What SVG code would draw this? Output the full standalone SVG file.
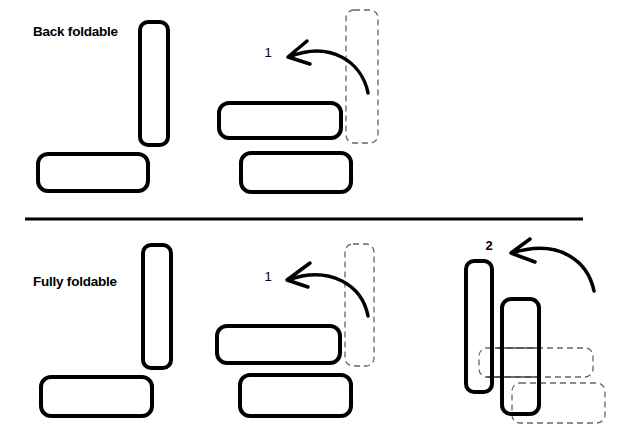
<svg xmlns="http://www.w3.org/2000/svg" width="620" height="443" viewBox="0 0 620 443">
<style>
.seat{fill:none;stroke:#000;stroke-width:4}
.ghost{fill:none;stroke:#666;stroke-width:1.3;stroke-dasharray:6,4}
.arr{fill:none;stroke:#000;stroke-width:3.5;stroke-linecap:round;stroke-linejoin:round}
.lbl{font-family:"Liberation Sans",Arial,sans-serif;font-size:13.5px;font-weight:bold;fill:#000}
.num{font-family:"Liberation Sans",Arial,sans-serif;font-size:13px;fill:#000}
</style>
<rect width="620" height="443" fill="#fff"/>
<text class="lbl" x="33" y="36" textLength="85">Back foldable</text>
<text class="lbl" x="33" y="286" textLength="84">Fully foldable</text>
<line x1="25" y1="219" x2="583" y2="219" stroke="#000" stroke-width="3"/>
<g id="top-left-back"><rect class="seat" x="140" y="22" width="28" height="123" rx="8"/></g>
<g id="top-left-seat"><rect class="seat" x="38" y="154" width="110" height="37" rx="10"/></g>
<g id="top-right-back"><rect class="seat" x="219" y="103" width="122" height="35" rx="10"/></g>
<g id="top-right-seat"><rect class="seat" x="241" y="153" width="110" height="39" rx="10"/></g>
<g id="top-ghost"><rect class="ghost" x="346" y="10" width="32" height="133" rx="8"/></g>
<g id="bot-left-back"><rect class="seat" x="143" y="245" width="28" height="123" rx="8"/></g>
<g id="bot-left-seat"><rect class="seat" x="41" y="377" width="111" height="39" rx="10"/></g>
<g id="bot-mid-back"><rect class="seat" x="217" y="326" width="123" height="37" rx="10"/></g>
<g id="bot-mid-seat"><rect class="seat" x="240" y="375" width="111" height="41" rx="10"/></g>
<g id="bot-mid-ghost"><rect class="ghost" x="345" y="244" width="29" height="122" rx="8"/></g>
<g id="bot-right-ghost1"><rect class="ghost" x="479" y="348" width="114" height="29" rx="8"/>
<line x1="495" y1="348" x2="538" y2="348" stroke="#444" stroke-width="1.3"/>
<line x1="487" y1="377" x2="540" y2="377" stroke="#444" stroke-width="1.3"/></g>
<g id="bot-right-ghost2"><rect class="ghost" x="512" y="383" width="93" height="40" rx="8"/></g>
<g id="bot-right-back"><rect class="seat" x="466" y="261" width="26" height="131" rx="8"/></g>
<g id="bot-right-seat"><rect class="seat" x="502" y="299" width="37" height="115" rx="9"/></g>
<g id="connectors">
<path class="arr" d="M368,93 C362,62 330,40 289,57 M307,41 L288,57 L310,64"/>
<path class="arr" d="M368,316 C362,285 330,265 288,280 M310,263 L287,280 L308,287"/>
<path class="arr" d="M594,291 C588,262 560,238 512,253 M530,239 L511,253 L535,262"/>
</g>
<text class="num" x="268" y="57" text-anchor="middle">1</text>
<text class="num" x="268" y="281" text-anchor="middle">1</text>
<text class="num" x="489" y="250" text-anchor="middle" font-weight="bold">2</text>
</svg>
